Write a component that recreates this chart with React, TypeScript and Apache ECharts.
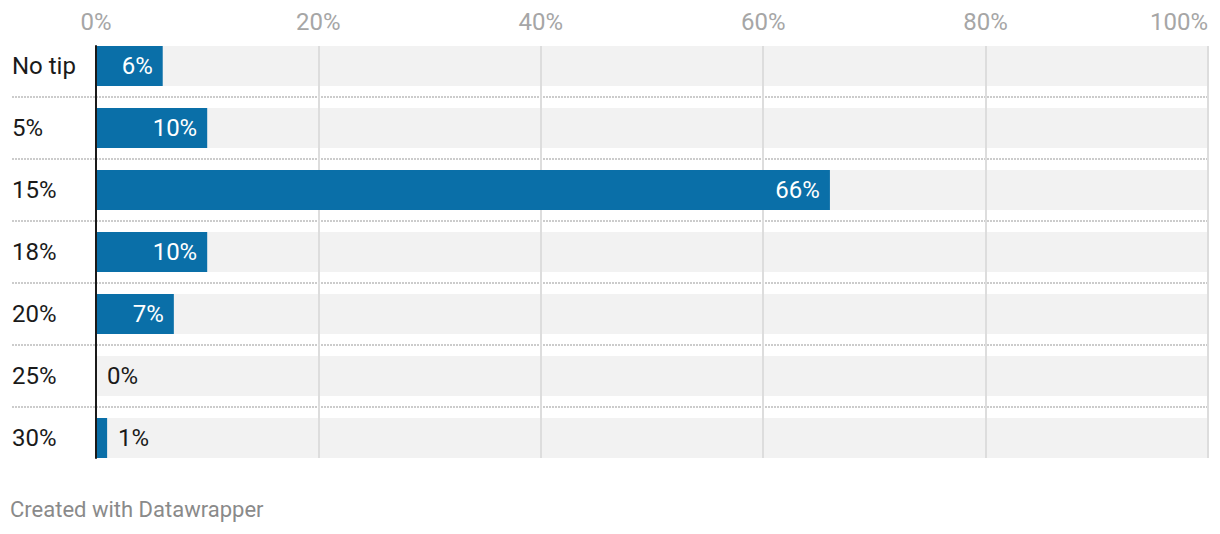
import React, { useEffect, useRef } from "react";
import * as echarts from "echarts";

const categories = ["No tip", "5%", "15%", "18%", "20%", "25%", "30%"];
const shares = [6, 10, 66, 10, 7, 0, 1];
const axisMin = 0;
const axisMax = 100;
const axisStep = 20;
const insideThreshold = 5;
const sourceNote = "Created with Datawrapper";

const FONT = "Roboto, 'Noto Sans', sans-serif";
const BLUE = "#0a6fa8";

export default function App() {
  const ref = useRef<HTMLDivElement>(null);
  useEffect(() => {
    if (!ref.current) return;
    const chart = echarts.init(ref.current, null, { renderer: "svg" });
    const valueData = shares.map((v) => {
      const inside = v >= insideThreshold;
      return {
        value: v,
        label: inside
          ? { position: "insideRight", distance: 10, color: "#ffffff" }
          : { position: "right", distance: 11, color: "#1a1a1a" },
      };
    });
    chart.setOption({
      animation: false,
      textStyle: { fontFamily: FONT },
      grid: [
        { left: 12, right: 12, top: 35, height: 434 },
        { left: 96, right: 12, top: 35, height: 434 },
        { left: 96, right: 12, top: 46, height: 412 },
      ],
      xAxis: [
        { gridIndex: 0, type: "value", min: 0, max: 1, show: false },
        { gridIndex: 1, type: "value", min: axisMin, max: axisMax, show: false },
        {
          gridIndex: 2,
          type: "value",
          min: axisMin,
          max: axisMax,
          interval: axisStep,
          position: "top",
          z: 1,
          axisLine: { show: false },
          axisTick: { show: false },
          splitLine: { show: true, lineStyle: { color: "#dddddd", width: 2 } },
          axisLabel: {
            formatter: "{value}%",
            color: "#a6a6a6",
            fontSize: 24,
            fontFamily: FONT,
            margin: 24,
            verticalAlign: "middle",
            alignMaxLabel: "right",
          },
        },
      ],
      yAxis: [
        {
          gridIndex: 0,
          type: "category",
          data: categories,
          inverse: true,
          axisLine: { show: false },
          axisTick: { show: false },
          axisLabel: { show: false },
          splitLine: {
            show: true,
            showMinLine: false,
            showMaxLine: false,
            lineStyle: { color: "#cccccc", width: 2, type: [2, 1] },
          },
        },
        {
          gridIndex: 1,
          type: "category",
          data: categories,
          inverse: true,
          axisLine: { show: false },
          axisTick: { show: false },
          splitLine: { show: false },
          axisLabel: {
            align: "left",
            margin: 84,
            fontSize: 24,
            color: "#1a1a1a",
            fontFamily: FONT,
          },
        },
        {
          gridIndex: 2,
          type: "value",
          min: 0,
          max: 1,
          z: 3,
          axisLine: { show: true, onZero: false, lineStyle: { color: "#1a1a1a", width: 2 } },
          axisTick: { show: false },
          axisLabel: { show: false },
          splitLine: { show: false },
        },
      ],
      series: [
        {
          type: "bar",
          xAxisIndex: 1,
          yAxisIndex: 1,
          data: categories.map(() => axisMax),
          barWidth: 40,
          itemStyle: { color: "#f2f2f2" },
          z: 0,
          silent: true,
        },
        {
          type: "bar",
          xAxisIndex: 1,
          yAxisIndex: 1,
          data: valueData,
          barWidth: 40,
          barGap: "-100%",
          itemStyle: { color: BLUE },
          z: 2,
          label: {
            show: true,
            formatter: "{c}%",
            fontSize: 24,
            fontFamily: FONT,
          },
        },
      ],
      graphic: [
        {
          type: "text",
          left: 10,
          top: 498,
          style: {
            text: sourceNote,
            fill: "#8a8a8a",
            font: `22px ${FONT}`,
          },
        },
      ],
    });
    return () => chart.dispose();
  }, []);
  return (
    <div
      ref={ref}
      style={{ position: "fixed", left: 0, top: 0, width: 1220, height: 534, background: "#fff" }}
    />
  );
}
